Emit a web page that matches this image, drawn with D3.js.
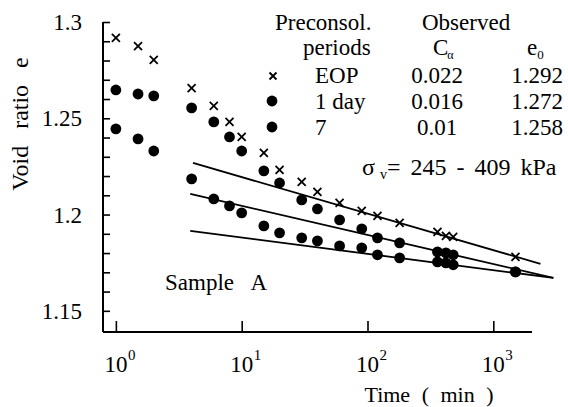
<!DOCTYPE html>
<html><head><meta charset="utf-8">
<script src="https://cdn.jsdelivr.net/npm/d3@7"></script>
<style>
html,body{margin:0;padding:0;background:#fff;}
svg text{font-family:"Liberation Serif","Times New Roman",serif;fill:#000;}
</style></head>
<body><svg id="c" width="568" height="407"></svg>
<script>
// ---- data ----
const times = [1, 1.5, 2, 4, 6, 8, 10, 15, 20, 30, 40, 60, 90, 120, 180, 360, 420, 480, 1500];
const eEOP  = [1.2917, 1.2875, 1.2803, 1.2657, 1.2564, 1.2481, 1.2403, 1.2320, 1.2232, 1.2170, 1.2118, 1.2061, 1.2019, 1.1993, 1.1957, 1.1910, 1.1889, 1.1884, 1.1780];
const e1day = [1.2647, 1.2626, 1.2616, 1.2554, 1.2481, 1.2403, 1.2330, 1.2227, 1.2164, 1.2076, 1.2029, 1.1972, 1.1926, 1.1879, 1.1853, 1.1806, 1.1801, 1.1791, 1.1702];
const e7day = [1.2445, 1.2393, 1.2330, 1.2185, 1.2081, 1.2045, 1.2009, 1.1941, 1.1905, 1.1879, 1.1863, 1.1837, 1.1827, 1.1791, 1.1775, 1.1754, 1.1749, 1.1739, 1.1702];
// fitted secondary-compression lines: [t, e] end points
const fitEOP  = [[4.1, 1.2268], [2370, 1.1744]];
const fit1day = [[3.9, 1.2107], [3000, 1.1671]];
const fit7day = [[3.9, 1.1915], [3000, 1.1671]];
const yTicks = [1.15, 1.16, 1.17, 1.18, 1.19, 1.2, 1.21, 1.22, 1.23, 1.24, 1.25, 1.26, 1.27, 1.28, 1.29, 1.3];
const yLabels = [1.15, 1.2, 1.25, 1.3];
const xTicks = [1, 10, 100, 1000];
const xExp = ["0", "1", "2", "3"];
const legendRows = [
  {sym: "x", name: "EOP",   ca: "0.022", e0: "1.292"},
  {sym: "o", name: "1 day", ca: "0.016", e0: "1.272"},
  {sym: "o", name: "7",     ca: "0.01",  e0: "1.258"}
];

// ---- scales ----
const svg = d3.select("#c");
const x = d3.scaleLog().domain([0.79, 2030]).range([103, 532]);
const y = d3.scaleLinear().domain([1.139, 1.3]).range([332, 22]);

// axes
const yAxis = d3.axisLeft(y).tickValues(yTicks).tickSize(-7).tickFormat("");
const gy = svg.append("g").attr("transform", "translate(103,0)").call(yAxis);
gy.select(".domain").attr("d", `M0,${y(1.3)}H0V${y(1.139)}`).attr("stroke-width", 2);
gy.selectAll(".tick line").attr("stroke-width", 1.6);

const xAxis = d3.axisBottom(x).tickValues(xTicks).tickSize(-11).tickFormat("");
const gx = svg.append("g").attr("transform", `translate(0,${y(1.139)})`).call(xAxis);
gx.select(".domain").attr("d", `M${x(0.79)},0H${x(2030)}`).attr("stroke-width", 2);
gx.selectAll(".tick line").attr("stroke-width", 1.6);

// y labels
svg.append("g").selectAll("text").data(yLabels).join("text")
  .attr("x", 82).attr("y", d => y(d) + 8)
  .attr("text-anchor", "end").attr("font-size", 23)
  .text(d => d3.format("")(d));

// x labels 10^n
const xl = svg.append("g").selectAll("g").data(xTicks).join("g");
xl.append("text").attr("x", d => x(d)).attr("y", 372)
  .attr("text-anchor", "middle").attr("font-size", 23).text("10");
xl.append("text").attr("x", d => x(d) + 12).attr("y", 360)
  .attr("font-size", 15).text((d, i) => xExp[i]);

// axis titles
svg.append("text").attr("transform", "translate(28,124) rotate(-90)")
  .attr("text-anchor", "middle").attr("font-size", 24).attr("word-spacing", 11)
  .text("Void ratio e");
svg.append("text").attr("x", 429).attr("y", 402).attr("text-anchor", "middle")
  .attr("font-size", 22).attr("word-spacing", 6).text("Time ( min )");

// fitted lines
const line = d3.line().x(d => x(d[0])).y(d => y(d[1]));
svg.append("g").selectAll("path").data([fitEOP, fit1day, fit7day]).join("path")
  .attr("d", line).attr("fill", "none").attr("stroke", "#000").attr("stroke-width", 1.8);

// points
function cross(g, cx, cy, s) {
  g.append("path").attr("d", `M${cx - s},${cy - s}L${cx + s},${cy + s}M${cx - s},${cy + s}L${cx + s},${cy - s}`)
    .attr("stroke", "#000").attr("stroke-width", 1.8).attr("fill", "none");
}
const pts = svg.append("g");
times.forEach((t, i) => cross(pts, x(t), y(eEOP[i]), 4));
pts.selectAll("circle.d1").data(times).join("circle").attr("class", "d1")
  .attr("cx", d => x(d)).attr("cy", (d, i) => y(e1day[i])).attr("r", 5.4).attr("fill", "#000");
pts.selectAll("circle.d7").data(times).join("circle").attr("class", "d7")
  .attr("cx", d => x(d)).attr("cy", (d, i) => y(e7day[i])).attr("r", 5.4).attr("fill", "#000");

// legend
const lg = svg.append("g").attr("font-size", 23);
lg.append("text").attr("x", 275).attr("y", 30).text("Preconsol.");
lg.append("text").attr("x", 422).attr("y", 30).text("Observed");
lg.append("text").attr("x", 303).attr("y", 55).text("periods");
const ca = lg.append("text").attr("x", 433).attr("y", 55);
ca.append("tspan").text("C");
ca.append("tspan").attr("font-size", 12).attr("dy", 4).attr("dx", -1).text("α");
const e0t = lg.append("text").attr("x", 527).attr("y", 55);
e0t.append("tspan").text("e");
e0t.append("tspan").attr("font-size", 13).attr("dy", 4).text("0");
const rowY = [83, 109, 135];
const symY = [76, 101, 127];
legendRows.forEach((r, i) => {
  if (r.sym === "x") cross(lg, 273, symY[i], 3.5);
  else lg.append("circle").attr("cx", 272).attr("cy", symY[i]).attr("r", 5.4).attr("fill", "#000");
  lg.append("text").attr("x", 315).attr("y", rowY[i]).text(r.name);
  lg.append("text").attr("x", 437).attr("y", rowY[i]).attr("text-anchor", "middle").text(r.ca);
  lg.append("text").attr("x", 537).attr("y", rowY[i]).attr("text-anchor", "middle").text(r.e0);
});

// annotations
const sg = svg.append("text").attr("x", 362).attr("y", 175).attr("font-size", 24).attr("word-spacing", 4);
sg.append("tspan").text("σ");
sg.append("tspan").attr("font-size", 14).attr("dx", 5).attr("dy", 4).text("v");
sg.append("tspan").attr("dy", -4).text("= 245 - 409 kPa");
svg.append("text").attr("x", 165).attr("y", 290).attr("font-size", 23).attr("word-spacing", 12).text("Sample A");
</script></body></html>
